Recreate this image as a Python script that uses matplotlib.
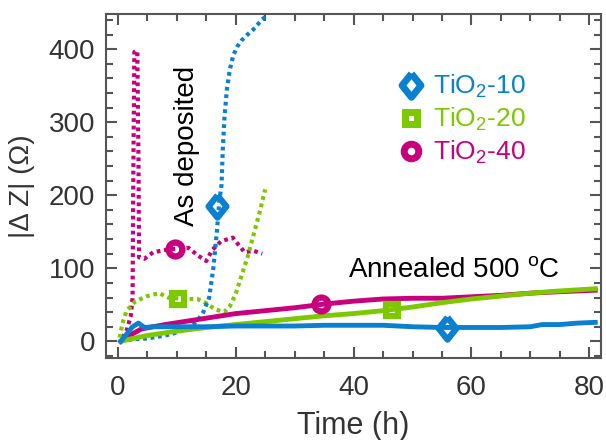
import matplotlib
matplotlib.use("Agg")
import matplotlib.pyplot as plt
from matplotlib.lines import Line2D
from matplotlib.ticker import MultipleLocator

plt.rcParams["font.family"] = ["Liberation Sans", "DejaVu Sans"]
plt.rcParams["mathtext.fontset"] = "custom"
plt.rcParams["mathtext.rm"] = "Liberation Sans"
plt.rcParams["mathtext.it"] = "Liberation Sans:italic"

BLUE = "#0A80D0"
GREEN = "#7DC800"
MAGENTA = "#C8007E"

# as deposited (dotted)
dep10_t = [0.5, 1.5, 3, 5, 8, 10, 12, 13.5, 14.5, 15.5, 16.2, 16.8, 17.2, 17.6,
           17.8, 18.1, 18.5, 19, 19.6, 20.3, 21, 22, 23, 24.4, 25]
dep10_z = [0, 2, 3, 4, 8, 12, 18, 28, 40, 60, 100, 150, 190, 215,
           262, 307, 345, 372, 392, 404, 412, 420, 427, 440, 444]
dep20_t = [0.3, 0.8, 1.5, 3, 5, 7, 8.5, 10, 12, 13.5, 15, 16.5, 18, 19, 20, 21,
           22, 23, 24, 25]
dep20_z = [5, 25, 42, 55, 62, 66, 60, 59, 58, 58, 52, 44, 40, 48, 65, 90,
           115, 145, 175, 208]
dep40_t = [0.8, 1.5, 2.2, 2.5, 2.6, 2.8, 3.3, 3.5, 3.6, 4.5, 6, 8, 10, 12, 13.5,
           15, 16, 17.5, 19.5, 20.5, 21.5, 23, 24.5]
dep40_z = [5, 15, 35, 60, 200, 396, 398, 250, 115, 113, 122, 125, 127, 128, 118,
           110, 125, 137, 142, 132, 122, 124, 120]

# annealed 500 C (solid)
ann10_t = [0.5, 1.5, 2.5, 3.5, 4.5, 6, 10, 15, 20, 25, 30, 35, 40, 45, 50, 55,
           60, 65, 70, 72, 75, 78, 81]
ann10_z = [0, 10, 20, 25, 19, 20, 20, 20, 21, 21, 21, 22, 22, 22, 20, 19,
           19, 19, 20, 23, 23, 25, 26]
ann20_t = [0.5, 2, 5, 10, 15, 20, 25, 30, 35, 40, 45, 50, 55, 60, 65, 70, 75, 81]
ann20_z = [0, 3, 8, 14, 19, 23, 27, 31, 35, 38, 42, 47, 53, 58, 62, 66, 69, 72]
ann40_t = [0.5, 2, 4, 8, 12, 16, 20, 25, 30, 35, 40, 45, 50, 55, 60, 65, 70, 75, 81]
ann40_z = [0, 8, 17, 23, 28, 33, 38, 42, 46, 51, 55, 58, 59, 59, 61, 63, 66, 68, 70]

# marker positions
mk10_t, mk10_z = [16.9, 55.9], [185, 18]
mk20_t, mk20_z = [10.2, 46.5], [58, 43]
mk40_t, mk40_z = [9.7, 34.5], [127, 51]

DIAMOND = [(0, 1), (0.8, 0), (0, -1), (-0.8, 0), (0, 1)]

fig = plt.figure(figsize=(6.06, 4.40), dpi=100)
ax = fig.add_axes([0.175, 0.186, 0.817, 0.782])

dot = (0, (0.9, 0.9))
ax.plot(dep40_t, dep40_z, color=MAGENTA, lw=3, ls=dot)
ax.plot(dep20_t, dep20_z, color=GREEN, lw=3, ls=dot)
ax.plot(dep10_t, dep10_z, color=BLUE, lw=3, ls=dot)
ax.plot(ann40_t, ann40_z, color=MAGENTA, lw=3.5)
ax.plot(ann20_t, ann20_z, color=GREEN, lw=3.5)
ax.plot(ann10_t, ann10_z, color=BLUE, lw=3.5)

mkw = dict(ls="none", markerfacecolor="none", markeredgewidth=4.5)
ax.plot(mk10_t, mk10_z, marker=DIAMOND, ms=16, color=BLUE, **mkw)
ax.plot(mk20_t, mk20_z, marker="s", ms=8, color=GREEN, **mkw)
ax.plot(mk40_t, mk40_z, marker="o", ms=10, color=MAGENTA, **mkw)

lkw = dict(ls="none", markerfacecolor="white", markeredgewidth=5)
handles = [
    Line2D([], [], marker=DIAMOND, ms=17, color=BLUE, **lkw),
    Line2D([], [], marker="s", ms=8.5, color=GREEN, **lkw),
    Line2D([], [], marker="o", ms=10.5, color=MAGENTA, **lkw),
]
labels = [r"TiO$_2$-10", r"TiO$_2$-20", r"TiO$_2$-40"]
ax.legend(handles, labels, loc="upper left", bbox_to_anchor=(0.535, 0.897),
          frameon=False, fontsize=19, labelcolor=[BLUE, GREEN, MAGENTA],
          handletextpad=0.25, labelspacing=0.22, handlelength=1.2)

ax.text(11.8, 268, "As deposited", rotation=90, fontsize=20,
        ha="center", va="center")
ax.text(57, 98, "Annealed 500 $^{\\mathrm{o}}$C", fontsize=20,
        ha="center", va="center")

ax.set_xlim(-2, 82)
ax.set_ylim(-23, 448)
ax.xaxis.set_major_locator(MultipleLocator(20))
ax.xaxis.set_minor_locator(MultipleLocator(5))
ax.yaxis.set_major_locator(MultipleLocator(100))
ax.yaxis.set_minor_locator(MultipleLocator(20))
ax.tick_params(which="both", direction="in", top=True, right=True,
               colors="#555555", labelcolor="#333333", width=1.5)
ax.tick_params(which="major", length=8, labelsize=20)
ax.tick_params(which="minor", length=5)
ax.tick_params(axis="x", pad=12)
ax.tick_params(axis="y", pad=8)
for s in ax.spines.values():
    s.set_color("#555555")
    s.set_linewidth(1.5)

ax.set_xlabel("Time (h)", fontsize=22, color="#333333", labelpad=7)
ax.set_ylabel("|Δ Z| (Ω)", fontsize=20, color="#333333", labelpad=10)

fig.savefig("out.png", dpi=100)
